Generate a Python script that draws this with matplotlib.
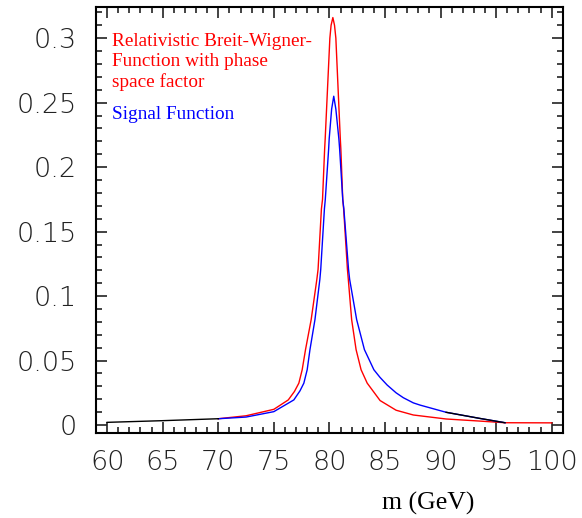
import numpy as np
import matplotlib
matplotlib.use("Agg")
import matplotlib.pyplot as plt
from matplotlib.ticker import MultipleLocator

# values
# red: relativistic Breit-Wigner with phase space factor
red_m = [70.0, 72.5, 75.0, 76.3, 76.85, 77.25, 77.55, 77.85, 78.36, 78.87, 78.98, 79.28, 79.38,
         79.57, 79.62, 80.04, 80.15, 80.31, 80.46, 80.58, 80.98, 81.03, 81.2, 81.28, 81.62, 81.7,
         82.0, 82.4, 82.85, 83.4, 84.56, 86.0, 87.55, 90.5, 93.5, 95.8, 100.0]
red_y = [0.0049, 0.0072, 0.0122, 0.0195, 0.0260, 0.0325, 0.0429, 0.0585, 0.0818, 0.113, 0.1208, 0.1676, 0.175,
         0.214, 0.222, 0.300, 0.310, 0.316, 0.310, 0.300, 0.222, 0.214, 0.175, 0.1676, 0.1208, 0.113,
         0.0818, 0.0585, 0.0429, 0.0325, 0.0190, 0.0115, 0.0078, 0.0047, 0.0031, 0.0018, 0.0017]

# blue: signal function
blue_m = [70.0, 72.5, 75.0, 76.8, 77.35, 77.7, 78.0, 78.25, 78.7, 79.14, 79.22, 79.55, 79.63,
          79.93, 79.98, 80.2, 80.39, 80.58, 80.85, 80.92, 81.2, 81.3, 81.72, 81.82, 82.45, 83.15,
          84.0, 84.55, 85.2, 86.0, 86.65, 87.55, 88.15, 90.5, 93.5, 95.8]
blue_y = [0.0049, 0.0062, 0.0104, 0.0195, 0.0265, 0.0325, 0.0429, 0.0585, 0.0818, 0.113, 0.1208, 0.1676, 0.175,
          0.214, 0.222, 0.245, 0.255, 0.245, 0.222, 0.214, 0.175, 0.1676, 0.1208, 0.113, 0.0818, 0.0585,
          0.0429, 0.0370, 0.0310, 0.0250, 0.0212, 0.0172, 0.0155, 0.0099, 0.0052, 0.0018]

# black pieces drawn on top
black_left_m = [60.0, 65.0, 70.0]
black_left_y = [0.0021, 0.0034, 0.0049]
black_right_m = [90.5, 93.5, 95.8]
black_right_y = [0.0099, 0.0052, 0.0018]

xticks = [60, 65, 70, 75, 80, 85, 90, 95, 100]
yticks = [0, 0.05, 0.1, 0.15, 0.2, 0.25, 0.3]
ytick_labels = ["0", "0.05", "0.1", "0.15", "0.2", "0.25", "0.3"]

fig = plt.figure(figsize=(5.82, 5.18), dpi=100)
ax = fig.add_axes([0.165, 0.164, 0.802, 0.8225])

ax.plot(red_m, red_y, color="#ff0000", lw=1.0)
ax.plot(blue_m, blue_y, color="#0000ff", lw=1.0)
ax.plot(black_left_m, black_left_y, color="black", lw=1.0)
ax.plot(black_right_m, black_right_y, color="black", lw=1.0)

ax.set_xlim(59.0, 101.0)
ax.set_ylim(-0.0062, 0.3242)

ax.set_xticks(xticks)
ax.set_xticklabels([str(v) for v in xticks])
ax.set_yticks(yticks)
ax.set_yticklabels(ytick_labels)
ax.xaxis.set_minor_locator(MultipleLocator(1))
ax.yaxis.set_minor_locator(MultipleLocator(0.01))
ax.tick_params(which="both", direction="in", top=True, right=True, width=1.2, color="#222222")
ax.tick_params(which="major", length=8)
ax.tick_params(which="minor", length=4.5)
ax.tick_params(axis="x", which="major", pad=12)
ax.tick_params(axis="y", which="major", pad=14)
for lab in ax.get_xticklabels() + ax.get_yticklabels():
    lab.set_fontfamily("DejaVu Sans")
    lab.set_fontweight("light")
    lab.set_fontsize(19.5)
    lab.set_color("#222222")
for sp in ax.spines.values():
    sp.set_linewidth(1.5)

serif = "Liberation Serif"
ax.text(0.034, 0.920, "Relativistic Breit-Wigner-", transform=ax.transAxes, color="red",
        family=serif, fontsize=13.9, va="center")
ax.text(0.034, 0.872, "Function with phase", transform=ax.transAxes, color="red",
        family=serif, fontsize=13.9, va="center")
ax.text(0.034, 0.824, "space factor", transform=ax.transAxes, color="red",
        family=serif, fontsize=13.9, va="center")
ax.text(0.034, 0.747, "Signal Function", transform=ax.transAxes, color="blue",
        family=serif, fontsize=13.9, va="center")

fig.text(0.735, 0.029, "m (GeV)", family=serif, fontsize=18.5, ha="center", va="center")

fig.savefig("out.png", dpi=100)
